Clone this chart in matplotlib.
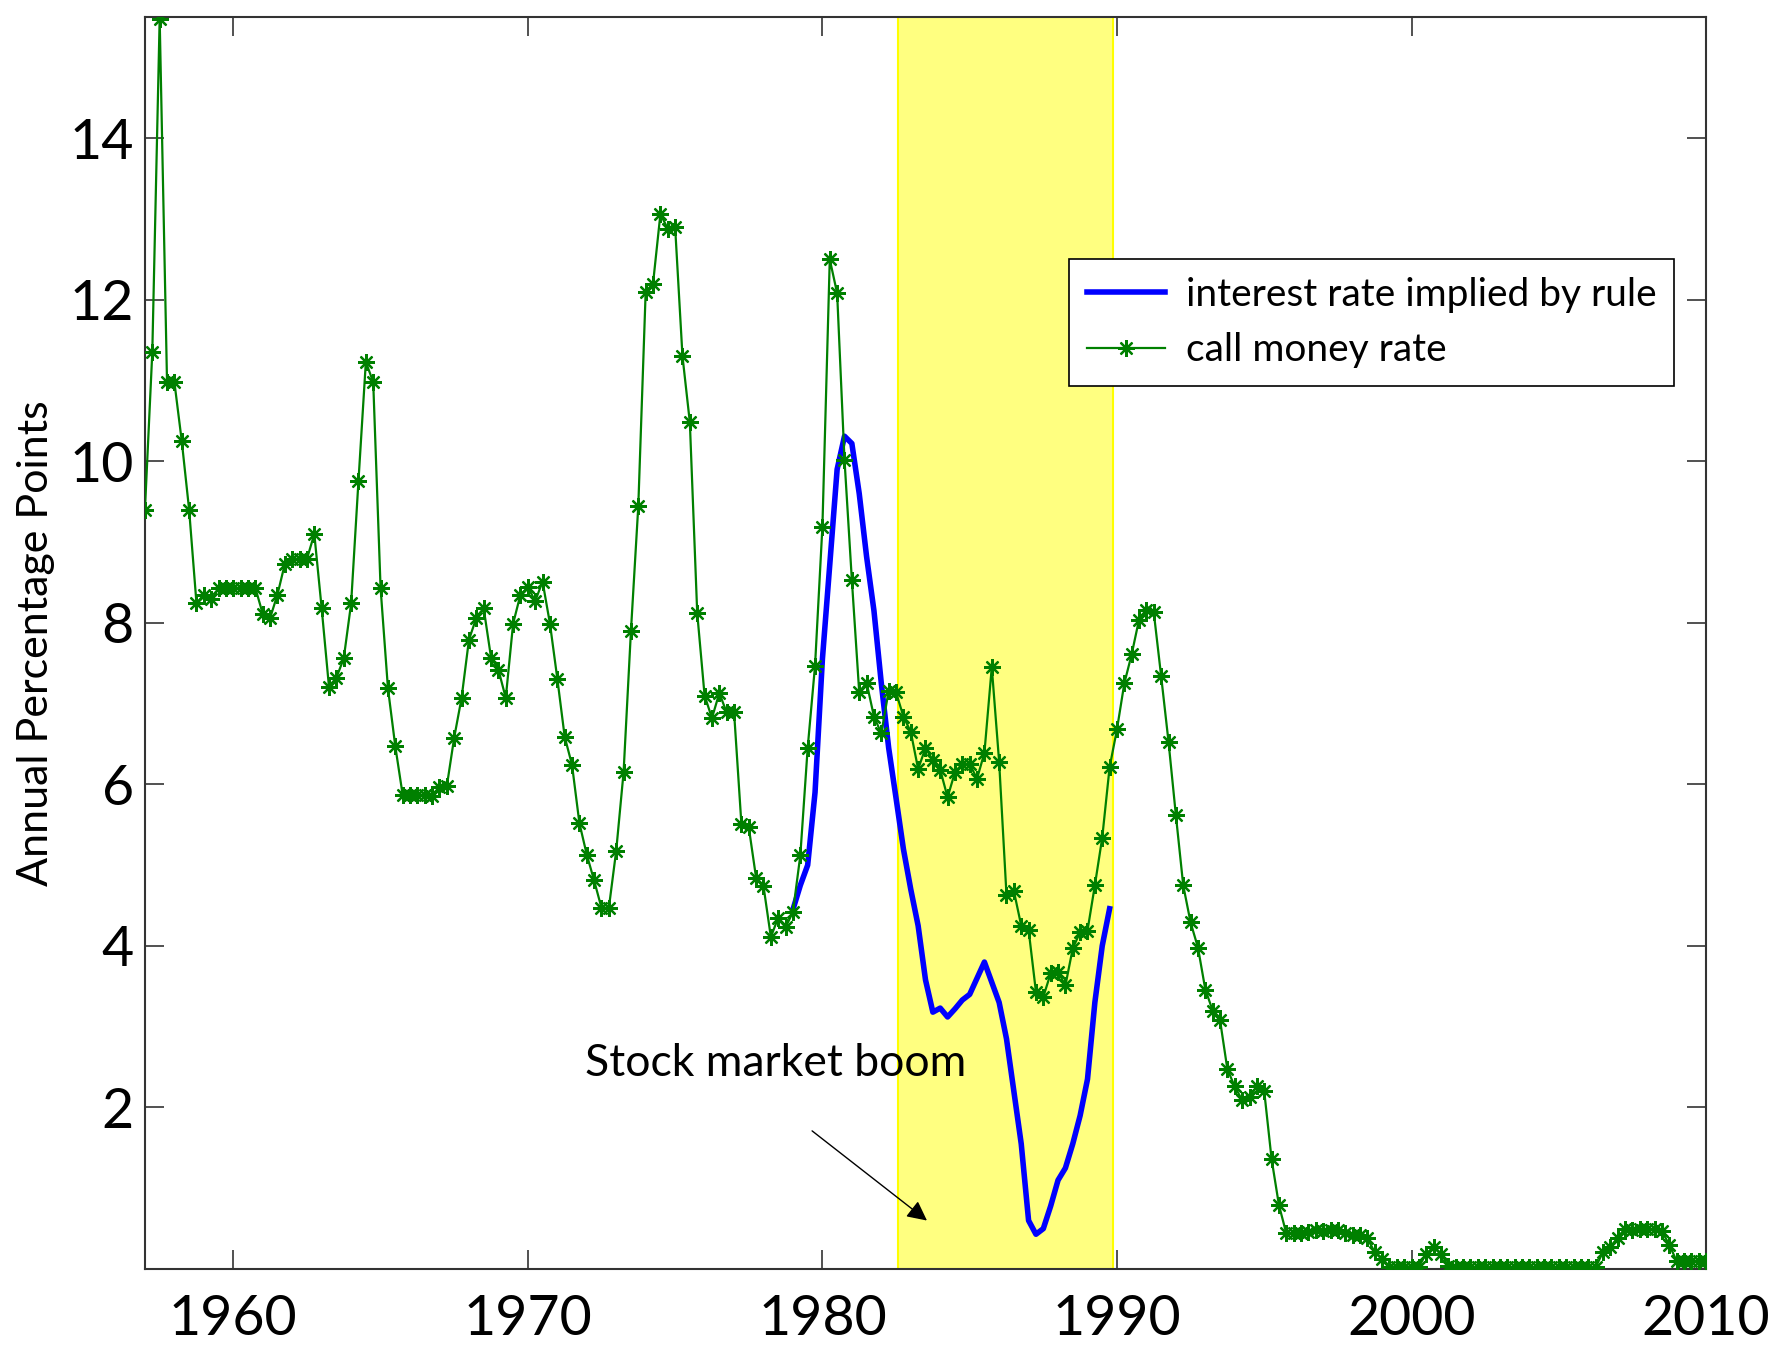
import matplotlib
matplotlib.use("Agg")
import matplotlib.pyplot as plt
import numpy as np

plt.rcParams['font.family'] = ['Lato', 'DejaVu Sans']

# call money rate, quarterly from 1957Q1 to 2010Q1
call_start = 1957.0
call_rate = [
    9.4, 11.35, 15.48, 10.98, 10.98, 10.25, 9.4, 8.24,          # 1957-1958
    8.35, 8.29, 8.43, 8.43, 8.43, 8.43, 8.43, 8.43,             # 1959-1960
    8.11, 8.06, 8.35, 8.73, 8.79, 8.79, 8.79, 9.1,              # 1961-1962
    8.18, 7.2, 7.32, 7.56, 8.24, 9.76, 11.23, 10.98,            # 1963-1964
    8.43, 7.19, 6.47, 5.87, 5.87, 5.87, 5.87, 5.85,             # 1965-1966
    5.97, 5.98, 6.58, 7.07, 7.79, 8.06, 8.18, 7.57,             # 1967-1968
    7.42, 7.07, 7.99, 8.35, 8.44, 8.27, 8.51, 7.99,             # 1969-1970
    7.31, 6.59, 6.24, 5.52, 5.13, 4.81, 4.47, 4.47,             # 1971-1972
    5.18, 6.15, 7.9, 9.45, 12.1, 12.2, 13.06, 12.88,            # 1973-1974
    12.9, 11.3, 10.48, 8.12, 7.1, 6.82, 7.13, 6.89,             # 1975-1976
    6.9, 5.51, 5.47, 4.84, 4.74, 4.11, 4.35, 4.23,              # 1977-1978
    4.42, 5.12, 6.45, 7.47, 9.19, 12.5, 12.08, 10.02,           # 1979-1980
    8.53, 7.14, 7.26, 6.84, 6.63, 7.16, 7.14, 6.84,             # 1981-1982
    6.65, 6.19, 6.45, 6.3, 6.18, 5.84, 6.15, 6.25,              # 1983-1984
    6.25, 6.07, 6.39, 7.45, 6.28, 4.63, 4.68, 4.25,             # 1985-1986
    4.2, 3.43, 3.37, 3.66, 3.68, 3.51, 3.97, 4.17,              # 1987-1988
    4.19, 4.75, 5.34, 6.21, 6.68, 7.25, 7.61, 8.04,             # 1989-1990
    8.16, 8.13, 7.34, 6.53, 5.62, 4.75, 4.29, 3.98,             # 1991-1992
    3.46, 3.2, 3.08, 2.47, 2.26, 2.09, 2.13, 2.26,              # 1993-1994
    2.2, 1.36, 0.79, 0.44, 0.44, 0.45, 0.46, 0.48,              # 1995-1996
    0.47, 0.48, 0.48, 0.44, 0.42, 0.42, 0.38, 0.21,             # 1997-1998
    0.13, 0.03, 0.03, 0.03, 0.03, 0.03, 0.19, 0.27,             # 1999-2000
    0.19, 0.04, 0.02, 0.02, 0.02, 0.02, 0.02, 0.02,             # 2001-2002
    0.02, 0.02, 0.02, 0.02, 0.02, 0.02, 0.02, 0.02,             # 2003-2004
    0.02, 0.02, 0.02, 0.02, 0.02, 0.02, 0.21, 0.27,             # 2005-2006
    0.39, 0.5, 0.48, 0.49, 0.49, 0.49, 0.47, 0.3,               # 2007-2008
    0.1, 0.1, 0.1, 0.1, 0.1,                                    # 2009-2010Q1
]

# interest rate implied by the rule, quarterly 1979Q1 - 1989Q4
rule_start = 1979.0
rule_rate = [
    4.45, 4.75, 5.0, 5.9, 7.55, 8.72, 9.9, 10.31,
    10.22, 9.6, 8.82, 8.15, 7.25, 6.45, 5.83, 5.2,
    4.7, 4.25, 3.58, 3.18, 3.23, 3.12, 3.22, 3.33,
    3.4, 3.6, 3.8, 3.55, 3.3, 2.85, 2.2, 1.55,
    0.6, 0.43, 0.5, 0.78, 1.1, 1.25, 1.55, 1.9,
    2.35, 3.3, 4.0, 4.46,
]

boom_period = (1982.55, 1989.85)

call_x = call_start + 0.25 * np.arange(len(call_rate))
rule_x = rule_start + 0.25 * np.arange(len(rule_rate))

fig = plt.figure(figsize=(17.74, 13.48), dpi=100)
ax = fig.add_axes([0.0817, 0.0586, 0.88, 0.9288])

ax.axvspan(boom_period[0], boom_period[1], facecolor='#ffff80', edgecolor='#ffff00',
           linewidth=1.5, zorder=0)

ax.plot(rule_x, rule_rate, color='#0000ff', linewidth=4,
        label='interest rate implied by rule', zorder=3)
ax.plot(call_x, call_rate, color='#008000', linewidth=1.6, marker=(8, 2, 0),
        markersize=12, markeredgewidth=1.6, label='call money rate', zorder=4)

ax.set_xlim(1957, 2010)
ax.set_ylim(0, 15.5)
ax.set_xticks([1960, 1970, 1980, 1990, 2000, 2010])
ax.set_yticks([2, 4, 6, 8, 10, 12, 14])

ax.tick_params(direction='in', length=14, width=1.2, top=True, right=True,
               labelsize=40, color='#333333')
ax.tick_params(axis='x', pad=18)
ax.tick_params(axis='y', pad=8)
for s in ax.spines.values():
    s.set_linewidth(1.5)
    s.set_color('#333333')

ax.set_ylabel('Annual Percentage Points', fontsize=31, labelpad=10)

ax.text(1971.95, 2.55, 'Stock market boom', fontsize=32, va='center', ha='left')
ax.annotate('', xy=(1983.55, 0.6), xytext=(1979.65, 1.71),
            arrowprops=dict(arrowstyle='-|>', color='black', lw=1,
                            mutation_scale=30, shrinkA=0, shrinkB=0))

leg = ax.legend(loc='upper right', bbox_to_anchor=(0.992, 0.822), fontsize=28,
                frameon=True, fancybox=False, handlelength=2.0, handletextpad=0.55,
                borderpad=0.45, labelspacing=0.5, framealpha=1)
leg.get_frame().set_edgecolor('black')
leg.get_frame().set_linewidth(1.2)

fig.savefig('out.png', dpi=100)
